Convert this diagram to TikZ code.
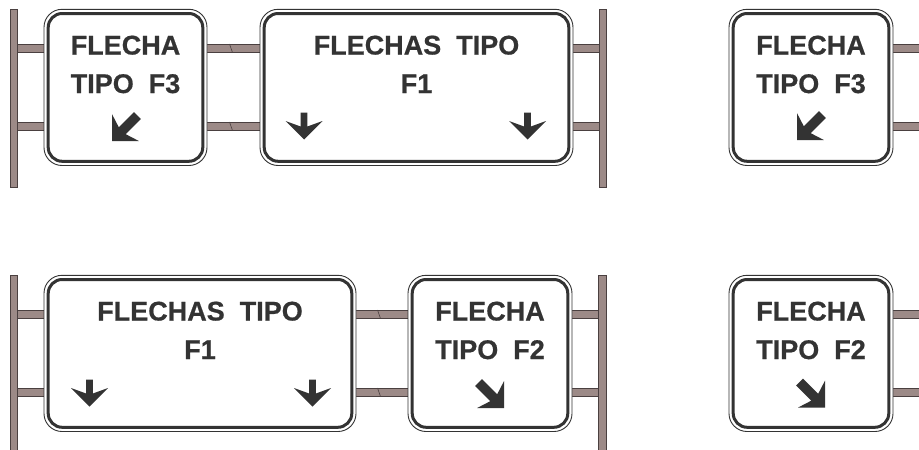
\documentclass[tikz,border=0pt]{standalone}
\usepackage{fontspec}
\setmainfont{Liberation Sans}[BoldFeatures={FakeBold=0.6}]
\definecolor{ink}{HTML}{333333}
\definecolor{steel}{HTML}{9C8A87}
\definecolor{edge}{HTML}{4A4040}
\tikzset{
  signtext/.style={text=ink, font=\bfseries\fontsize{27}{27}\selectfont, anchor=base, inner sep=0pt},
  barshape/.style={fill=steel, draw=edge, line width=0.7pt},
  breakmark/.style={draw=edge, line width=0.6pt},
  signouter/.style={fill=white, draw=ink, line width=0.9pt, rounded corners=18pt},
  signinner/.style={draw=ink, line width=3pt, rounded corners=14pt},
  arrowfill/.style={fill=ink},
}
\newcommand\roadsign[4]{%
  \draw[signouter] (#1,#2) rectangle (#3,#4);
  \draw[signinner] (#1+4.2,#2+4.2) rectangle (#3-4.2,#4-4.2);
}
\newcommand\straightarrow[2]{%
  \fill[arrowfill, shift={(#1,#2)}, rotate=90] (0,0) -- (-18.5,18.5) -- (-13,3.4) -- (-27,3.4) -- (-27,-3.4) -- (-13,-3.4) -- (-18.5,-18.5) -- cycle;
}
\newcommand\slantarrow[3]{%
  \fill[arrowfill, shift={(#1,#2)}, rotate=#3] (0,0) -- (-19,19) -- (-14.5,4.8) -- (-36,4.8) -- (-36,-4.8) -- (-14.5,-4.8) -- (-19,-19) -- cycle;
}
\begin{document}
\begin{tikzpicture}[x=1pt,y=1pt,yscale=-1]
\useasboundingbox (0,0) rectangle (919,450);
% ---------- bars ----------
\foreach \yy in {44,122,310,388}{
  \filldraw[barshape] (17,\yy) rectangle (600,\yy+8.5);
  \filldraw[barshape] (890,\yy) rectangle (921,\yy+8.5);
}
\foreach \yy in {44,122}{\draw[breakmark] (229.5,\yy) -- (232.5,\yy+8.5);}
\foreach \yy in {310,388}{\draw[breakmark] (377.5,\yy) -- (380.5,\yy+8.5);}
% ---------- posts ----------
\filldraw[barshape] (10,9) rectangle (17,187);
\filldraw[barshape] (599,9) rectangle (606.5,187);
\filldraw[barshape] (10,275) rectangle (17,452);
\filldraw[barshape] (598.5,275) rectangle (606,452);
% ---------- signs ----------
\roadsign{44}{9.3}{207}{165.5}
\roadsign{260}{9.3}{573}{165.5}
\roadsign{729}{9.3}{893}{165.5}
\roadsign{44}{275.3}{356}{431.5}
\roadsign{408}{275.3}{572}{431.5}
\roadsign{729}{275.3}{893}{431.5}
% ---------- texts ----------
\node[signtext] (s1a) at (125.5,54.5) {FLECHA};
\node[signtext] (s1b) at (125.5,93) {TIPO\ \ F3};
\node[signtext] (s2a) at (416.5,54.5) {FLECHAS\ \ TIPO};
\node[signtext] (s2b) at (416.5,93) {F1};
\node[signtext] (s3a) at (811,54.5) {FLECHA};
\node[signtext] (s3b) at (811,93) {TIPO\ \ F3};
\node[signtext] (s4a) at (200,320.5) {FLECHAS\ \ TIPO};
\node[signtext] (s4b) at (200,359) {F1};
\node[signtext] (s5a) at (490,320.5) {FLECHA};
\node[signtext] (s5b) at (490,359) {TIPO\ \ F2};
\node[signtext] (s6a) at (811,320.5) {FLECHA};
\node[signtext] (s6b) at (811,359) {TIPO\ \ F2};
% ---------- arrows ----------
\slantarrow{112}{141}{135}
\slantarrow{797}{140}{135}
\straightarrow{304}{139.5}
\straightarrow{527.5}{139.5}
\straightarrow{89.5}{406.5}
\straightarrow{312.5}{406.5}
\slantarrow{504}{408}{45}
\slantarrow{825}{407.5}{45}
\end{tikzpicture}
\end{document}
